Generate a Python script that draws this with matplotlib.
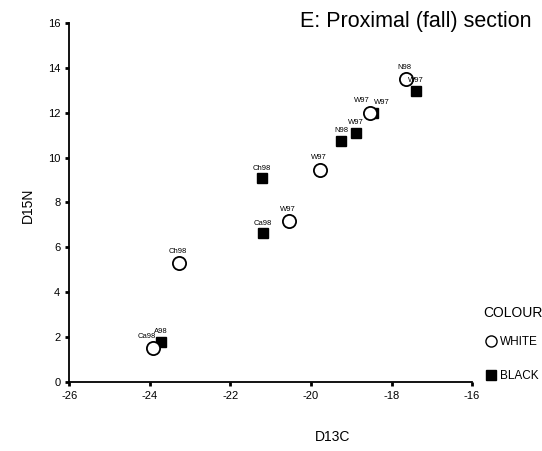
import matplotlib.pyplot as plt

plt.rcParams['font.family'] = ['Liberation Sans', 'DejaVu Sans']
plt.rcParams['axes.unicode_minus'] = False

# white colour group (open circles)
white_x = [-23.93, -23.28, -20.55, -19.78, -18.53, -17.64]
white_y = [1.51, 5.30, 7.16, 9.47, 12.0, 13.5]
white_lab = ['Ca98', 'Ch98', 'W97', 'W97', 'W97', 'N98']

# black colour group (filled squares)
black_x = [-23.73, -21.22, -21.19, -19.25, -18.88, -18.46, -17.39]
black_y = [1.78, 9.07, 6.62, 10.76, 11.10, 12.0, 12.98]
black_lab = ['A98', 'Ch98', 'Ca98', 'N98', 'W97', 'W97', 'W97']

fig = plt.figure(figsize=(5.42, 4.51), dpi=100)
ax = fig.add_axes([0.128, 0.153, 0.743, 0.796])

ax.plot(black_x, black_y, 's', color='black', markersize=7.5, linestyle='none')
ax.plot(white_x, white_y, 'o', markerfacecolor='white', markeredgecolor='black',
        markeredgewidth=1.3, markersize=9.5, linestyle='none')

for i, (x, y, t) in enumerate(zip(white_x, white_y, white_lab)):
    dx = -1
    if t == 'Ca98':
        dx = -4
    if i == 4:  # overlapping pair near (-18.5, 12)
        dx = -6
    ax.annotate(t, (x, y), xytext=(dx, 6), textcoords='offset points',
                ha='center', va='bottom', fontsize=5.5)
for i, (x, y, t) in enumerate(zip(black_x, black_y, black_lab)):
    dx = 6 if i == 5 else 0
    ax.annotate(t, (x, y), xytext=(dx, 5), textcoords='offset points',
                ha='center', va='bottom', fontsize=5.5)

ax.set_xlim(-26, -16)
ax.set_ylim(0, 16)
ax.set_xticks(range(-26, -15, 2))
ax.set_yticks(range(0, 17, 2))
for s in ['top', 'right']:
    ax.spines[s].set_visible(False)
for s in ['left', 'bottom']:
    ax.spines[s].set_linewidth(1.3)
ax.tick_params(direction='out', length=3, width=2, labelsize=8)

fig.text(333 / 542, 1 - 437 / 451, 'D13C', fontsize=10, ha='center', va='center')
fig.text(28 / 542, 1 - 205 / 451, 'D15N', fontsize=10, ha='center', va='center',
         rotation=90)
fig.text(300 / 542, 1 - 22 / 451, 'E: Proximal (fall) section', fontsize=15.5,
         ha='left', va='center')

# legend
fig.text(483 / 542, 1 - 313 / 451, 'COLOUR', fontsize=10, ha='left', va='center')
fig.lines.append(plt.Line2D([491 / 542], [1 - 341 / 451], marker='o', markersize=8,
                            markerfacecolor='white', markeredgecolor='black',
                            transform=fig.transFigure))
fig.text(500 / 542, 1 - 342 / 451, 'WHITE', fontsize=8.5, ha='left', va='center')
fig.lines.append(plt.Line2D([491 / 542], [1 - 375 / 451], marker='s', markersize=7,
                            color='black', transform=fig.transFigure))
fig.text(500 / 542, 1 - 376 / 451, 'BLACK', fontsize=8.5, ha='left', va='center')

fig.savefig('out.png', dpi=100)
